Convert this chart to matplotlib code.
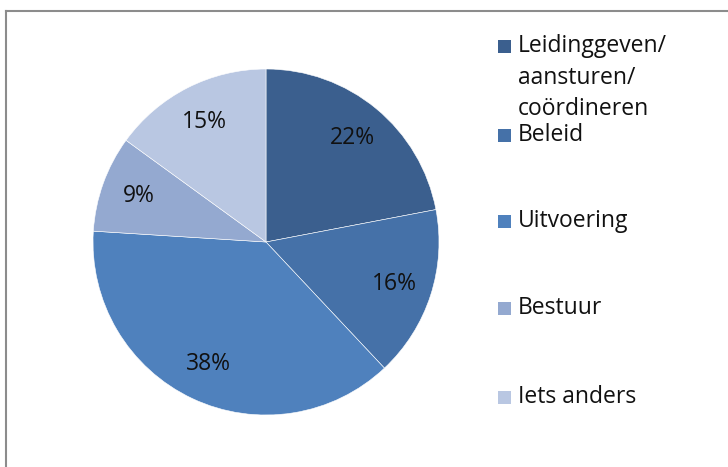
import matplotlib
matplotlib.use("Agg")
import matplotlib.pyplot as plt
from matplotlib.patches import Rectangle
from matplotlib.lines import Line2D

categories = ["Leidinggeven/\naansturen/\ncoördineren", "Beleid", "Uitvoering", "Bestuur", "Iets anders"]
values = [22, 16, 38, 9, 15]
colors = ["#3B5F8E", "#4571A8", "#4F81BD", "#94A9D0", "#B9C7E2"]

W, H = 728, 467
fig = plt.figure(figsize=(W / 100, H / 100), dpi=100)
plt.rcParams['font.family'] = ['Open Sans', 'DejaVu Sans']

cx, cy, r = 266, 242, 173
ax = fig.add_axes([(cx - r) / W, (H - cy - r) / H, 2 * r / W, 2 * r / H])
wedges, texts, autotexts = ax.pie(values, colors=colors, startangle=90, counterclock=False,
                                  autopct=lambda p: f"{p:.0f}%", pctdistance=0.78,
                                  radius=1, wedgeprops=dict(edgecolor="white", linewidth=0.4),
                                  textprops=dict(fontsize=16.5, color="#111111"))
ax.set_xlim(-1, 1)
ax.set_ylim(-1, 1)
ax.set_aspect("equal")
ax.axis("off")

# border lines
fig.add_artist(Line2D([6 / W, 6 / W], [0, 1 - 11 / H], transform=fig.transFigure, color="#8c8c8c", lw=1.5))
fig.add_artist(Line2D([6 / W, 1], [1 - 11 / H, 1 - 11 / H], transform=fig.transFigure, color="#8c8c8c", lw=1.5))

# legend
rows_y = [46, 135, 221, 308, 397]
for lab, col, y in zip(categories, colors, rows_y):
    fig.add_artist(Rectangle((498 / W, 1 - (y + 7) / H), 13 / W, 13 / H,
                             transform=fig.transFigure, facecolor=col, edgecolor="none"))
    fig.text(518 / W, 1 - (y - 12) / H, lab, fontsize=16.5, va="top", ha="left",
             color="#111111", linespacing=1.42)

fig.savefig("out.png", dpi=100)
